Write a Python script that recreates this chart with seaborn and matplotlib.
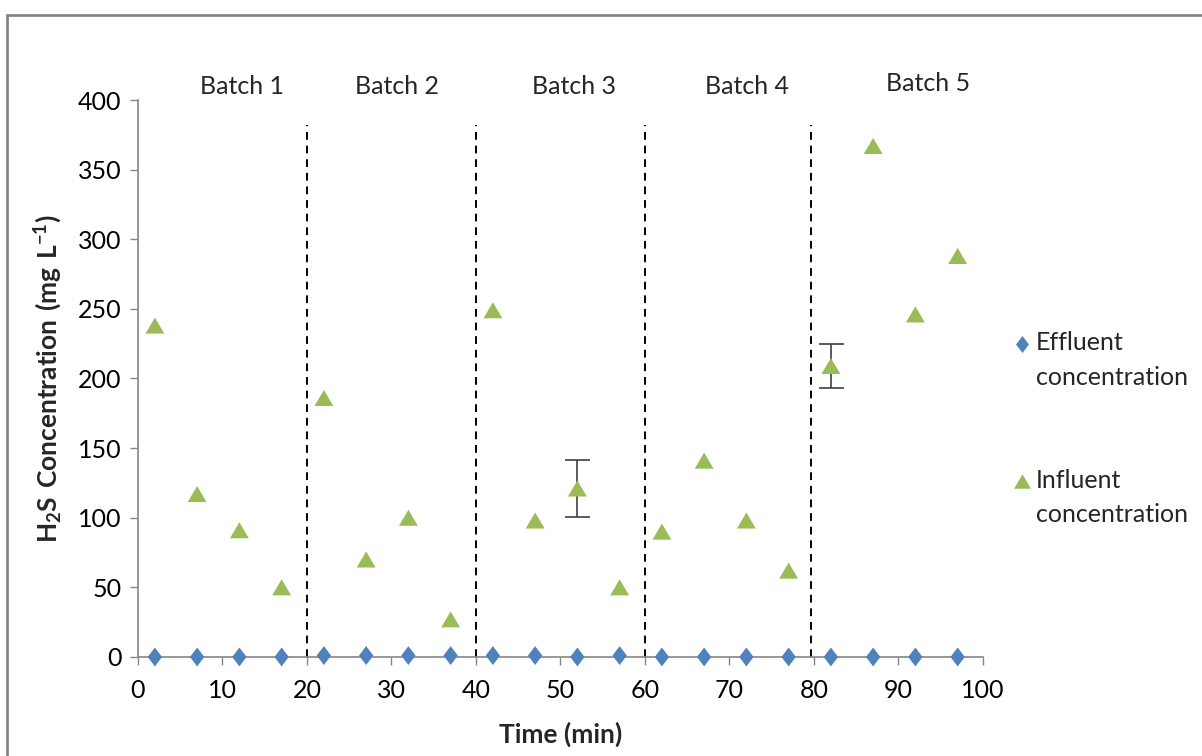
import numpy as np
import pandas as pd
import matplotlib
matplotlib.use("Agg")
import matplotlib.pyplot as plt
from matplotlib.patches import Rectangle
from matplotlib.path import Path
from matplotlib.transforms import Affine2D
import seaborn as sns

# Sampling times (min)
time_min = [2, 7, 12, 17, 22, 27, 32, 37, 42, 47, 52, 57, 62, 67, 72, 77, 82, 87, 92, 97]
# H2S concentrations (mg/L)
effluent = [0, 0, 0, 0, 1, 1, 1, 1, 1, 1, 0, 1, 0, 0, 0, 0, 0, 0, 0, 0]
influent = [238, 117, 91, 50, 186, 70, 100, 27, 249, 98, 121, 50, 90, 141, 98, 62, 209, 367, 246, 288]
# Standard deviation bars shown for two samples
err_time = [52, 82]
err_value = [121, 209]
err_sd = [20.5, 16]
# Batch boundaries and labels
batch_bounds = [20, 40, 60, 79.6]
batch_labels = ["Batch 1", "Batch 2", "Batch 3", "Batch 4", "Batch 5"]
batch_label_x = [12.3, 30.7, 51.6, 72.1, 93.5]
batch_label_y = [410, 410, 410, 410, 412]

sns.set_theme(style="white")
plt.rcParams["font.family"] = ["Lato", "DejaVu Sans"]
plt.rcParams["mathtext.fontset"] = "custom"
plt.rcParams["mathtext.rm"] = "Lato"
plt.rcParams["mathtext.bf"] = "Lato:bold"

BLUE = "#4F81BD"
GREEN = "#9BBB59"
GRAY = "#868686"
FS = 18

df = pd.DataFrame({
    "Time (min)": time_min * 2,
    "conc": effluent + influent,
    "series": ["Effluent\nconcentration"] * len(time_min) + ["Influent\nconcentration"] * len(time_min),
})

diamond = Path([(0, 1), (0.76, 0), (0, -1), (-0.76, 0), (0, 1)],
               [Path.MOVETO, Path.LINETO, Path.LINETO, Path.LINETO, Path.CLOSEPOLY])
triangle = Path([(0, 0.85), (1, -0.85), (-1, -0.85), (0, 0.85)],
                [Path.MOVETO, Path.LINETO, Path.LINETO, Path.CLOSEPOLY])

fig = plt.figure(figsize=(12.02, 7.56), dpi=100)
ax = fig.add_axes([0.1148, 0.131, 0.703, 0.7367])

# dashed batch separators
for b in batch_bounds:
    ax.plot([b, b], [0, 382], color="black", lw=1.4, ls=(0, (4, 3)), zorder=1)

# error bars
ax.errorbar(err_time, err_value, yerr=err_sd, fmt="none", ecolor="#404040",
            elinewidth=1.2, capsize=9, capthick=1.2, zorder=2)

sns.scatterplot(data=df, x="Time (min)", y="conc", hue="series", style="series",
                markers={"Effluent\nconcentration": diamond, "Influent\nconcentration": triangle},
                palette={"Effluent\nconcentration": BLUE, "Influent\nconcentration": GREEN},
                s=185, linewidth=0, ax=ax, zorder=3, clip_on=False)

ax.set_xlim(0, 100)
ax.set_ylim(0, 400)
ax.set_xticks(np.arange(0, 101, 10))
ax.set_yticks(np.arange(0, 401, 50))
ax.tick_params(axis="both", which="major", labelsize=FS, length=6, width=1,
               color=GRAY, direction="out", bottom=True, left=True, pad=6, labelcolor="black")
ax.tick_params(axis="x", pad=10)
for side in ["top", "right"]:
    ax.spines[side].set_visible(False)
for side in ["left", "bottom"]:
    ax.spines[side].set_color(GRAY)
    ax.spines[side].set_linewidth(1.2)

ax.set_xlabel("Time (min)", fontsize=19, fontweight="bold", labelpad=14)
ax.set_ylabel(r"$\mathbf{H_2S\ Concentration\ (mg\ L^{-1})}$", fontsize=19, labelpad=10)

for lbl, x, y in zip(batch_labels, batch_label_x, batch_label_y):
    ax.text(x, y, lbl, fontsize=FS, ha="center", va="center", clip_on=False)

leg = ax.legend(loc="center left", bbox_to_anchor=(1.005, 0.41), frameon=False,
                fontsize=FS, labelspacing=3.2, handletextpad=0.05, handlelength=1.0,
                markerscale=0.9)
for t in leg.get_texts():
    t.set_linespacing(1.6)
# legend markers sit beside the first line of each two-line label
lift = Affine2D().translate(0, 17)
for h in leg.legend_handles:
    if hasattr(h, "set_offset_transform"):
        h.set_offset_transform(h.get_offset_transform() + lift)
    else:
        h.set_transform(h.get_transform() + lift)

# chart-area border
fig.patches.append(Rectangle((7 / 1202, -0.01), 1.05, 1 - 15 / 756 + 0.01,
                             transform=fig.transFigure, fill=False,
                             edgecolor=GRAY, linewidth=2))

fig.savefig("out.png", dpi=100)
